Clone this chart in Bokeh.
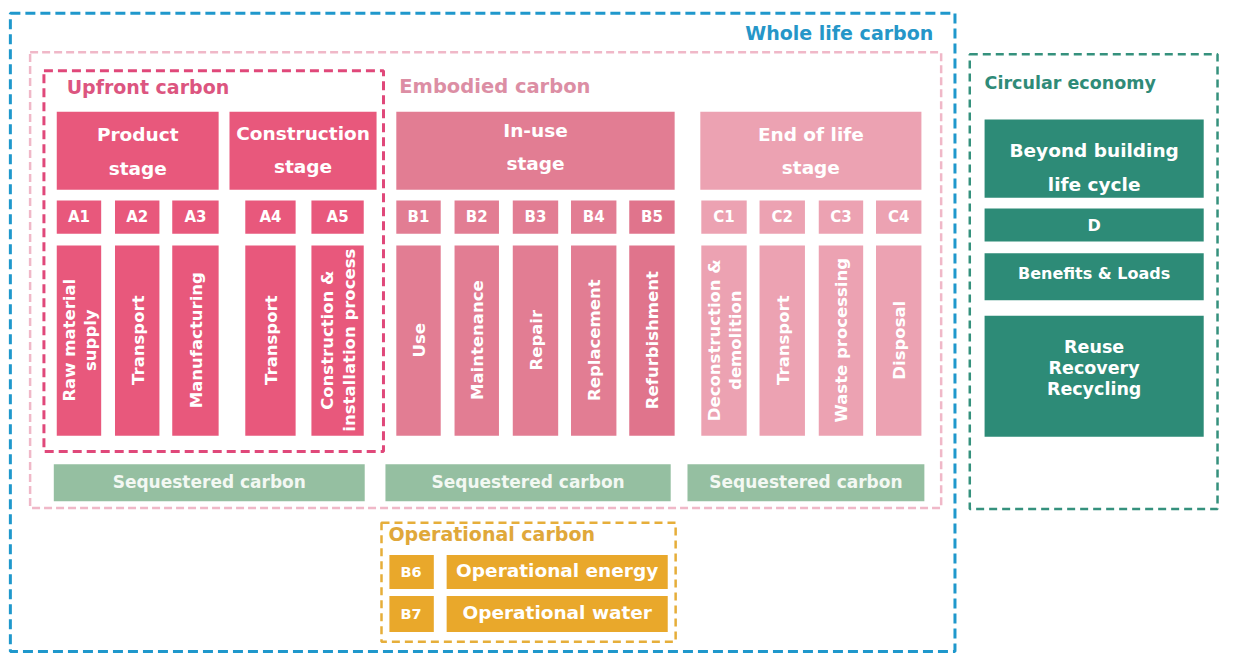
from math import pi
from bokeh.plotting import figure
from bokeh.models import Range1d
from bokeh.core.properties import value
from bokeh.embed import file_html
from bokeh.resources import INLINE

# ---------------- data (labels of the diagram) ----------------
group_titles = ["Whole life carbon", "Embodied carbon", "Upfront carbon",
                "Circular economy", "Operational carbon"]
stage_names = ["Product\nstage", "Construction\nstage", "In-use\nstage", "End of life\nstage"]
a_codes = ["A1", "A2", "A3", "A4", "A5"]
a_labels = ["Raw material\nsupply", "Transport", "Manufacturing", "Transport",
            "Construction &\ninstallation process"]
b_codes = ["B1", "B2", "B3", "B4", "B5"]
b_labels = ["Use", "Maintenance", "Repair", "Replacement", "Refurbishment"]
c_codes = ["C1", "C2", "C3", "C4"]
c_labels = ["Deconstruction &\ndemolition", "Transport", "Waste processing", "Disposal"]
seq_label = "Sequestered carbon"
circ_labels = ["Beyond building\nlife cycle", "D", "Benefits & Loads",
               "Reuse\nRecovery\nRecycling"]
op_codes = ["B6", "B7"]
op_labels = ["Operational energy", "Operational water"]

# ---------------- layout & style ----------------
FONT = value("DejaVu Sans")
W, H = 1219, 654
p = figure(width=W, height=H, x_range=Range1d(0, 1235), y_range=Range1d(670, 0),
           output_backend="svg", toolbar_location=None, min_border=0)
p.axis.visible = False
p.grid.visible = False
p.outline_line_color = None
p.background_fill_color = "white"

C_PROD = "#e8587c"
C_USE = "#e27d93"
C_EOL = "#eca2b2"
C_SEQ = "#95bfa1"
C_GREEN = "#2d8b77"
C_ORANGE = "#e9a82b"


def box(l, r, t, b, color):
    p.quad(left=[l], right=[r], top=[t], bottom=[b], fill_color=color,
           line_color=None)


def dashed(l, r, t, b, color, w, dash):
    p.quad(left=[l], right=[r], top=[t], bottom=[b], fill_color=None, fill_alpha=0,
           line_color=color, line_width=w, line_dash=dash)


def label(x, y, s, size, color="white", align="center", angle=0.0, lh=1.2,
          style="bold"):
    p.text(x=[x], y=[y], text=[s], text_font=FONT, text_font_size=f"{size}px",
           text_font_style=style, text_color=color, text_align=align,
           text_baseline="middle", angle=angle, text_line_height=lh)


# dashed group frames
dashed(10, 967, 13, 667, "#1f98cc", 3, "10 5")
dashed(30, 953, 53, 520, "#f0b8c8", 2.5, "8 4")
dashed(44, 388, 72, 462, "#e0487a", 3, "9 5")
dashed(982, 1233, 55, 521, "#35917d", 2.5, "8 5")
dashed(386, 684, 535, 657, "#e6ae3a", 2.5, "8 5")

label(945, 33, group_titles[0], 19, "#2596c8", align="right")
label(404, 88, group_titles[1], 19.5, "#dc8ea4", align="left")
label(67, 89, group_titles[2], 19, "#dc5580", align="left")
label(997, 85, group_titles[3], 17.5, "#2f8b78", align="left")
label(393, 547, group_titles[4], 19, "#e0a83a", align="left")

# stage header boxes
stage_boxes = [(57, 221, C_PROD), (232, 381, C_PROD), (401, 683, C_USE), (709, 933, C_EOL)]
stage_text_y = [155, 153, 150, 154]
for (l, r, c), s, ty in zip(stage_boxes, stage_names, stage_text_y):
    box(l, r, 114, 194, c)
    label((l + r) / 2, ty, s, 18.5, lh=1.6)

# modules: code boxes and vertical bars
a_x = [(57, 102), (116, 161), (174, 221), (248, 299), (315, 368)]
b_x = [(401, 446), (460, 505), (519, 565), (578, 624), (637, 683)]
c_x = [(710, 756), (769, 815), (829, 874), (887, 933)]
b_bar_colors = [C_USE, C_USE, C_USE, C_USE, "#e0748c"]
groups = [(a_codes, a_labels, a_x, [C_PROD] * 5),
          (b_codes, b_labels, b_x, b_bar_colors),
          (c_codes, c_labels, c_x, [C_EOL] * 4)]
for codes, labels, xs, cols in groups:
    for code, lab, (l, r), c in zip(codes, labels, xs, cols):
        box(l, r, 205, 239, c)
        label((l + r) / 2, 222, code, 15)
        box(l, r, 251, 446, c)
        label((l + r) / 2 + 1, 348, lab, 16.5, angle=pi / 2, lh=1.12)

# sequestered carbon bars
for l, r in [(54, 369), (390, 679), (696, 936)]:
    box(l, r, 475, 513, C_SEQ)
    label((l + r) / 2, 493, seq_label, 17, "#f3f8f3")

# circular economy boxes
circ_y = [(122, 202, 171, 1.6, 18.5), (213, 247, 230, 1.2, 16),
          (259, 307, 280, 1.2, 16), (323, 447, 376, 1.05, 17.5)]
for s, (t, b, ty, lh, fs) in zip(circ_labels, circ_y):
    box(997, 1219, t, b, C_GREEN)
    label(1108, ty, s, fs, lh=lh)

# operational carbon
for code, lab, (t, b) in zip(op_codes, op_labels, [(568, 603), (610, 647)]):
    box(394, 439, t, b, C_ORANGE)
    label(416, (t + b) / 2, code, 14.5)
    box(452, 676, t, b, C_ORANGE)
    label(564, (t + b) / 2 - 2, lab, 18.5)

open("out.html", "w").write(file_html(p, INLINE))
